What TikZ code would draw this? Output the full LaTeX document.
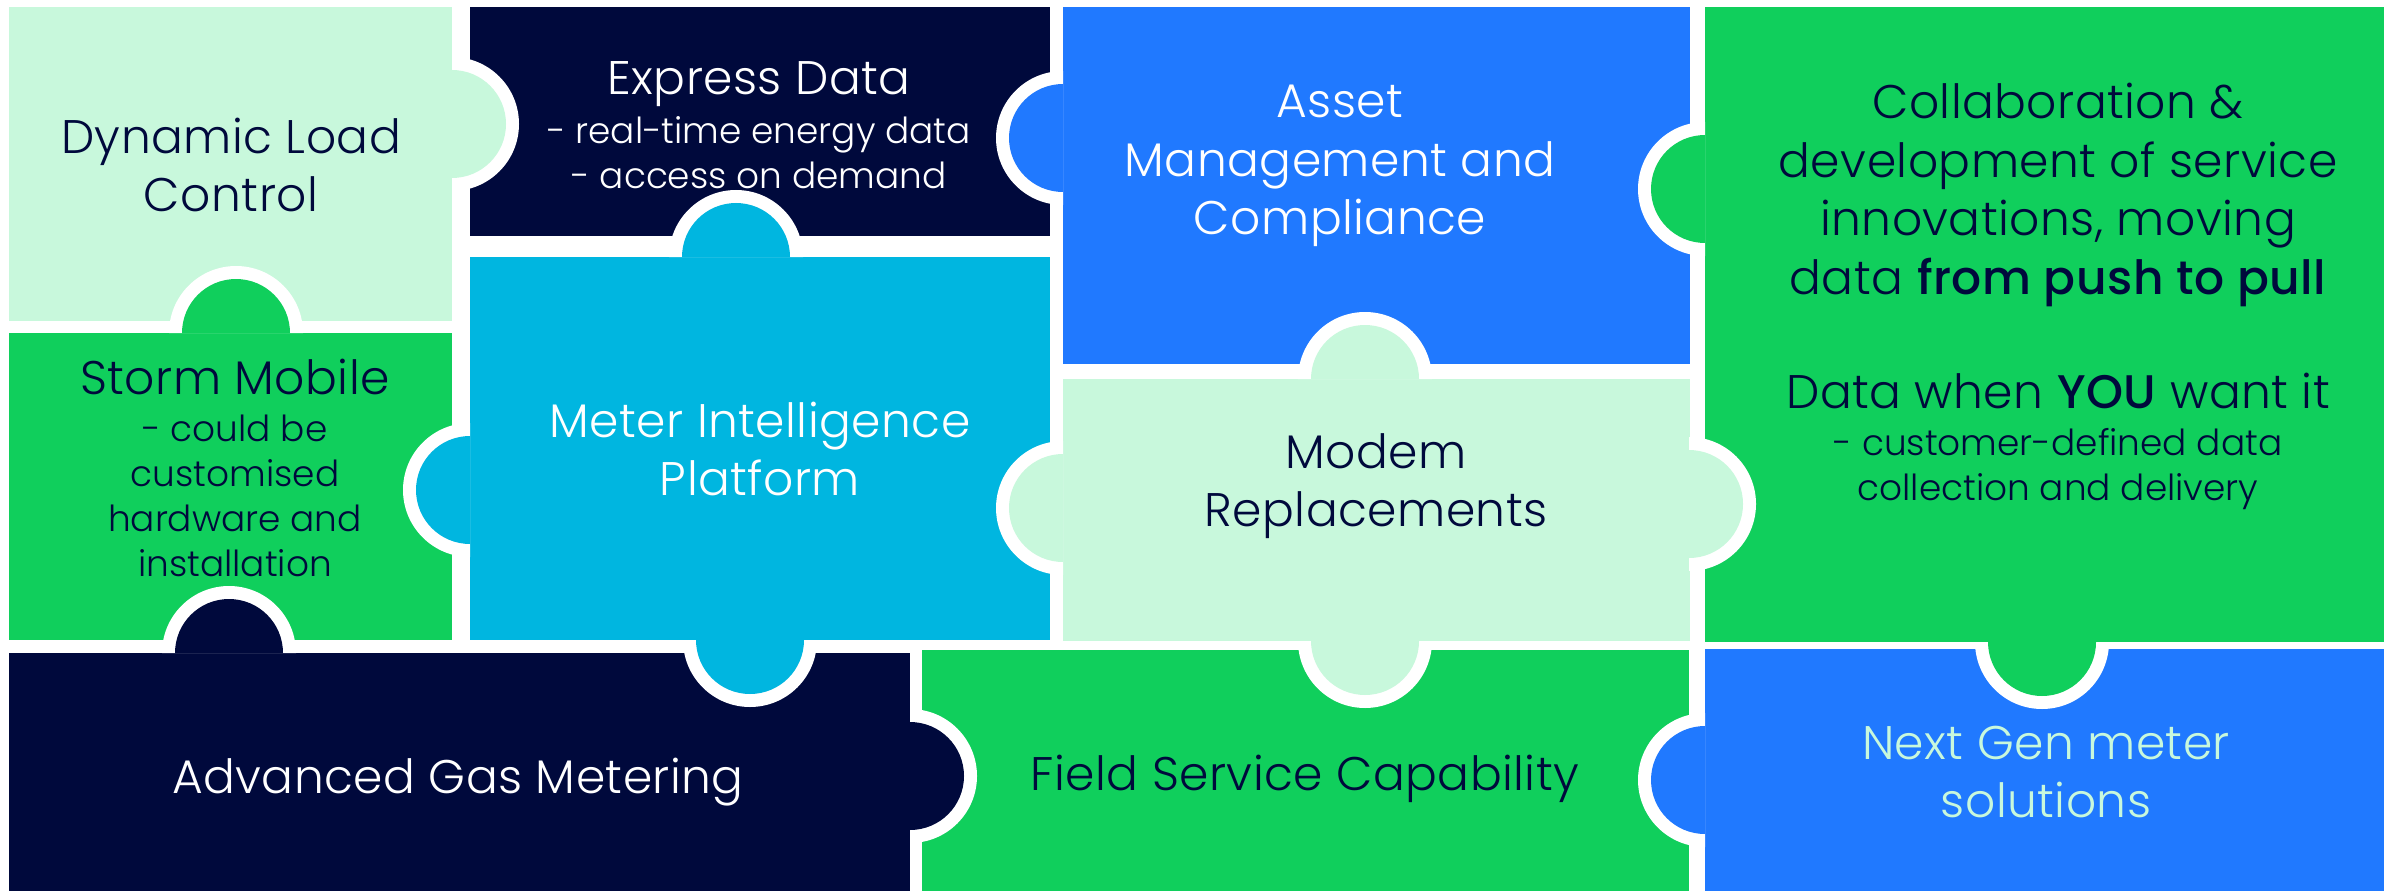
\documentclass[tikz,border=0pt]{standalone}
\usepackage{fontspec}
\IfFontExistsTF{Poppins Light}
  {\setmainfont{Poppins Light}[BoldFont={Poppins Medium}]
   \newfontfamily\ttlfont{Poppins Light}[LetterSpace=1,BoldFont={Poppins Medium}]}
  {\setmainfont{Poppins}
   \newfontfamily\ttlfont{Poppins}[LetterSpace=1]}
\usepackage{xcolor}
\usepackage{tikz}
\usetikzlibrary{positioning}
\definecolor{mint}{RGB}{200,248,220}
\definecolor{navy}{RGB}{0,9,60}
\definecolor{azure}{RGB}{32,121,255}
\definecolor{sky}{RGB}{0,182,224}
\definecolor{leaf}{RGB}{16,207,92}

\begin{document}
\begin{tikzpicture}[x=0.01cm,y=-0.01cm,
  ttl/.style={font=\ttlfont\fontsize{13.4}{16.6}\selectfont,align=center,inner sep=0pt},
  sub/.style={font=\fontsize{10.2}{12.8}\selectfont,align=center,inner sep=0pt}
]
\fill[white] (0,0) rectangle (2394,891);
\fill[mint]  (9,7) rectangle (452,321);
\fill[leaf]  (9,333) rectangle (452,640);
\fill[navy]  (470,7) rectangle (1050,236);
\fill[sky]   (470,257) rectangle (1050,640);
\fill[azure] (1063,7) rectangle (1690,364);
\fill[mint]  (1063,379) rectangle (1690,641);
\fill[leaf]  (1705,7) rectangle (2384,642);
\fill[navy]  (9,653) rectangle (910,891);
\fill[leaf]  (922,650) rectangle (1689,891);
\fill[azure] (1705,649) rectangle (2384,891);
\foreach \x/\y/\a/\c in {452/124/0/mint, 236/333/270/leaf, 736/257/270/sky,
    1063/138/180/azure, 1705/189/180/leaf, 1365/379/270/mint, 470/490/180/sky,
    229/653/270/navy, 750/640/90/sky, 1063/508/180/mint, 1689/504/0/mint,
    1365/641/90/mint, 910/776/0/navy, 1705/780/180/azure, 2042/642/90/leaf}{
  \fill[white] (\x,\y) ++(\a-90:67) arc[start angle=\a-90,delta angle=180,radius=67] -- cycle;
  \fill[\c] (\x,\y) ++(\a-90:54) arc[start angle=\a-90,delta angle=180,radius=54] -- cycle;
}
\node[ttl,text=navy] (dlc) at (231,165) {Dynamic Load\\Control};
\node[ttl,text=white] (express) at (759,84) {Express Data};
\node[sub,text=white] (expresssub) at (759,153) {- real-time energy data\\- access on demand};
\node[ttl,text=white] (asset) at (1340,166) {Asset\\Management and\\Compliance};
\node[ttl,text=navy] (collab) at (2058,195) {Collaboration \&\\development of service\\innovations, moving\\data \textbf{from push to pull}};
\node[ttl,text=navy] (want) at (2058,391) {Data when \textbf{YOU} want it};
\node[sub,text=navy] (wantsub) at (2058,469) {- customer-defined data\\collection and delivery};
\node[ttl,text=navy] (storm) at (235,377) {Storm Mobile};
\node[sub,text=navy] (stormsub) at (235,496) {- could be\\customised\\hardware and\\installation};
\node[ttl,text=white] (mip) at (760,449) {Meter Intelligence\\Platform};
\node[ttl,text=navy] (modem) at (1376,486) {Modem\\Replacements};
\node[ttl,text=white] (gas) at (458,782) {Advanced Gas Metering};
\node[ttl,text=navy] (field) at (1305,779) {Field Service Capability};
\node[ttl,text=mint] (nextgen) at (2046,772) {Next Gen meter\\solutions};
\end{tikzpicture}
\end{document}
